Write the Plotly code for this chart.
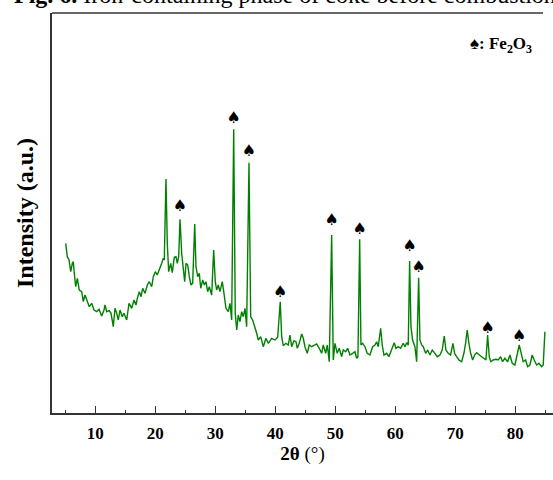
import plotly.graph_objects as go

# 2-theta (degrees) and intensity (arbitrary units)
two_theta = [5.07, 5.33, 5.62, 5.90, 6.17, 6.33, 6.50, 6.73, 7.00, 7.33, 7.73, 8.00, 8.28, 8.57, 9.00, 9.40, 9.78,
             10.23, 10.62, 11.07, 11.45, 11.62, 11.90, 12.33, 12.62, 13.00, 13.28, 13.57, 13.83, 14.12, 14.50, 14.78,
             15.23, 15.62, 16.07, 16.45, 16.78, 17.00, 17.33, 17.62, 17.90, 18.28, 18.67, 19.00, 19.40, 19.67,
             20.00, 20.33, 20.67, 21.07, 21.33, 21.50, 21.78, 22.00, 22.23, 22.57, 22.83, 23.17, 23.45, 23.67, 23.90,
             24.12, 24.40, 24.67, 24.90, 25.12, 25.40, 25.67, 25.95, 26.23, 26.57, 26.78, 27.07, 27.33, 27.57, 27.90,
             28.17, 28.45, 28.73, 29.00, 29.40, 29.73, 30.00, 30.23, 30.50, 30.78, 31.17, 31.45, 31.78, 32.17, 32.45,
             32.73, 33.07, 33.33, 33.57, 33.83, 34.12, 34.40, 34.67, 34.95, 35.23, 35.62, 35.90, 36.23, 36.62, 36.90,
             37.17, 37.57, 38.00, 38.45, 38.83, 39.40, 39.95, 40.40, 40.83, 41.07, 41.33, 41.78, 42.17, 42.45, 42.73,
             43.12, 43.45, 43.67, 44.00, 44.40, 44.67, 44.95, 45.33, 45.67, 46.07, 46.50, 46.90, 47.33, 47.73, 48.00,
             48.40, 48.67, 49.00, 49.40, 49.67, 49.95, 50.33, 50.67, 51.07, 51.33, 51.73, 52.07, 52.45, 52.90, 53.28,
             53.57, 53.78, 54.07, 54.28, 54.57, 54.95, 55.33, 55.78, 56.23, 56.62, 56.90, 57.17, 57.57, 57.83, 58.12,
             58.57, 58.95, 59.40, 59.83, 60.12, 60.50, 60.90, 61.33, 61.62, 61.90, 62.17, 62.40, 62.62, 62.90, 63.28,
             63.57, 63.90, 64.12, 64.40, 64.67, 65.07, 65.40, 65.78, 66.17, 66.62, 67.00, 67.45, 67.83, 68.17, 68.45,
             68.83, 69.23, 69.62, 69.90, 70.23, 70.62, 71.07, 71.45, 71.73, 72.00, 72.28, 72.57, 72.90, 73.23, 73.57,
             73.95, 74.40, 74.78, 75.12, 75.40, 75.67, 75.95, 76.33, 76.78, 77.17, 77.57, 77.90, 78.28, 78.73, 79.12,
             79.50, 79.95, 80.33, 80.67, 81.00, 81.33, 81.73, 82.07, 82.45, 82.83, 83.17, 83.57, 83.95, 84.40, 84.67,
             84.95]
intensity = [169.7, 156.3, 153, 141.3, 149.7, 151.3, 139.7, 126.3, 134.7, 123, 121.3, 111.3, 118, 113, 106.3, 109.7, 103,
             101.3, 103.7, 97, 103, 108, 101.3, 102.3, 99.7, 86.3, 104.7, 99.7, 93, 103, 96.3, 99.7,
             93, 109.7, 104.7, 113, 108, 114.7, 121.3, 116.3, 124.7, 119.7, 128, 131.3, 126.3, 136.3,
             141.3, 138, 143, 149.7, 154.7, 153, 234, 169.7, 141.3, 149.7, 140.3, 155.7, 156.3, 149.7, 156.3,
             193.7, 159.7, 144.7, 131.3, 149.7, 148, 136.3, 128, 129.7, 189, 146.3, 136.3, 139.7, 124.7, 133,
             128, 131.3, 121.3, 126.3, 118, 163, 131.3, 123, 128, 121.3, 131.3, 119.7, 104.7, 101.3, 109.7,
             93, 283.7, 99.7, 83, 98, 91.3, 101.3, 96.3, 104.7, 86.3, 250.3, 96.3, 93, 86.3, 79.7,
             73, 76.3, 66.3, 74.7, 69.7, 74.7, 73, 75.7, 111.3, 76.3, 67.3, 69.7, 68, 78, 66.3,
             72.3, 71.3, 64.7, 69.7, 79, 74.7, 66.3, 59.7, 68, 66.3, 68, 69, 64.7, 59.7, 68,
             59.7, 68, 51.3, 178, 53, 69.7, 59.7, 64.7, 56.3, 63, 61.3, 64.7, 58, 59.7, 61.3,
             54.7, 56.3, 173.7, 68, 69.7, 66.3, 59.7, 58, 66.3, 68, 71.3, 66.3, 84.7, 68, 58,
             59.7, 56.3, 63, 70.3, 64.7, 66.3, 64.7, 69.7, 66.3, 70.3, 68, 152, 86.3, 73, 66.3,
             51.3, 135.3, 73, 68, 66.3, 59.7, 63, 58, 63, 59.7, 56.3, 58, 63, 77, 63,
             59.7, 58, 69.7, 59.7, 56.3, 53, 51.3, 59.7, 69.7, 83, 69.7, 59.7, 53, 58, 60.3,
             58, 56.3, 54.7, 53, 78, 56.3, 51.3, 53, 53.7, 53, 56.3, 51.3, 54.7, 51.3, 58,
             49.7, 48, 59.7, 68, 59.7, 51.3, 53, 46.3, 48, 58, 53, 48, 49.7, 46.3, 48,
             81.3]

# Fe2O3 peak positions (2-theta) and the height of the spade label above each
fe2o3_peaks = [24.12, 33.07, 35.62, 40.83, 49.40, 54.07, 62.40, 63.90, 75.40, 80.67]
marker_height = [206.3, 293.7, 261.3, 120.3, 192, 183, 166.3, 144.7, 84, 76.3]

x_ticks = [10, 20, 30, 40, 50, 60, 70, 80]

SERIF = "Liberation Serif, Times New Roman, serif"
AXIS_COLOR = "#333333"

fig = go.Figure()
fig.add_trace(go.Scatter(
    x=two_theta, y=intensity, mode="lines",
    line=dict(color="#008000", width=1.4),
    showlegend=False, hoverinfo="skip",
))
fig.add_trace(go.Scatter(
    x=fe2o3_peaks, y=marker_height, mode="text",
    text=["♠"] * len(fe2o3_peaks),
    textfont=dict(family="DejaVu Sans", size=16, color="black"),
    showlegend=False, hoverinfo="skip",
))

fig.update_layout(
    width=553, height=480,
    margin=dict(l=52, r=0, t=13, b=67),
    paper_bgcolor="white", plot_bgcolor="white",
    font=dict(family=SERIF, color="black"),
    xaxis=dict(
        range=[2.78, 86.3],
        tickvals=x_ticks, ticktext=[str(v) for v in x_ticks],
        ticks="inside", ticklen=7, tickwidth=1.3, tickcolor=AXIS_COLOR,
        minor=dict(dtick=5, tick0=5, ticks="inside", ticklen=3, tickwidth=1.2, tickcolor=AXIS_COLOR),
        showline=True, linecolor=AXIS_COLOR, linewidth=1.6,
        showgrid=False, zeroline=False,
        tickfont=dict(family=SERIF, size=17, color="black", weight="bold"),
        ticklabelstandoff=4,
        title=dict(text="<b>2θ</b> (°)", font=dict(family=SERIF, size=19, color="black"), standoff=0),
    ),
    yaxis=dict(
        range=[0, 400],
        showticklabels=False, ticks="",
        showline=True, linecolor=AXIS_COLOR, linewidth=1.6,
        showgrid=False, zeroline=False,
        title=dict(text="<b>Intensity (a.u.)</b>", font=dict(family=SERIF, size=24, color="black"), standoff=10),
    ),
    shapes=[dict(type="line", xref="paper", yref="paper", x0=0, x1=0.98, y0=1, y1=1,
                 line=dict(color=AXIS_COLOR, width=1.6))],
    annotations=[
        dict(text="<b>Fig. 6.</b> Iron-containing phase of coke before combustion",
             xref="paper", yref="paper", x=-0.08, y=1, xanchor="left", yanchor="bottom",
             yshift=3, showarrow=False, font=dict(family=SERIF, size=24, color="black")),
        dict(text="<b>♠: Fe<sub>2</sub>O<sub>3</sub></b>",
             xref="paper", yref="paper", x=0.962, y=0.92, xanchor="right", yanchor="middle",
             showarrow=False, font=dict(family=SERIF, size=17, color="black")),
    ],
)

fig.write_html("out.html")
